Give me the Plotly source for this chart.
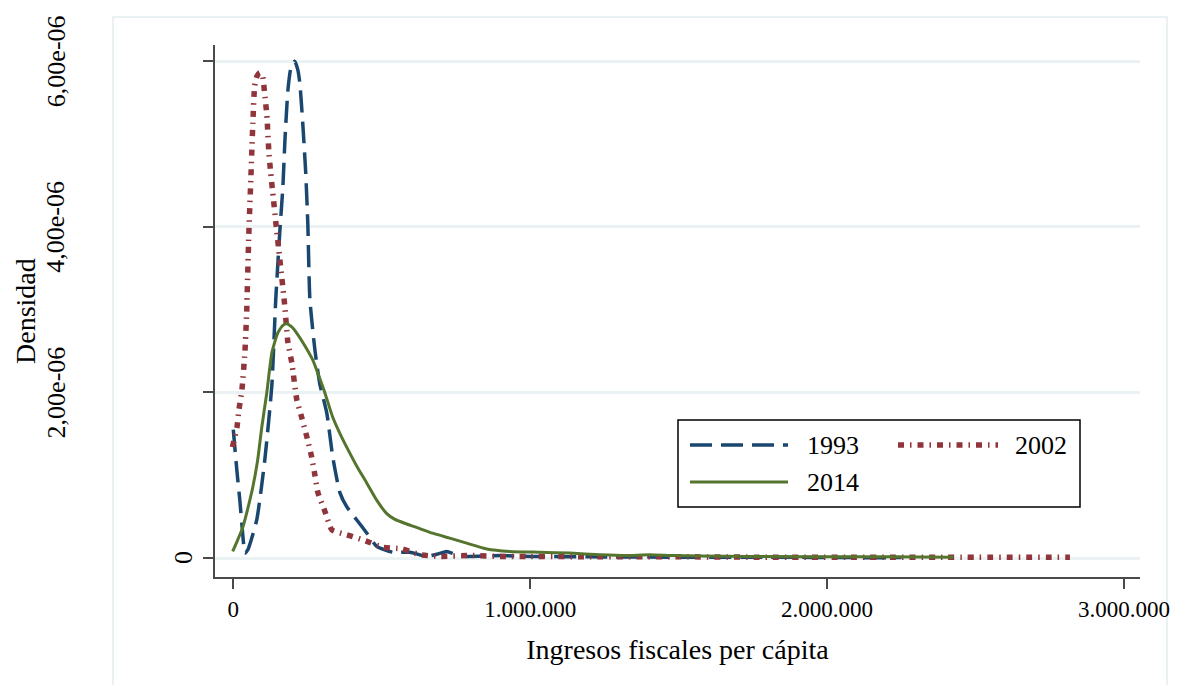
import plotly.graph_objects as go

# ---------------- data (x = ingresos fiscales per cápita, y = densidad in millionths) -------------
x_1993 = [0, 12000, 22000, 32000, 39000, 49000, 79000, 106000, 130000, 143000, 157000, 167000,
          174000, 184000, 194000, 207000, 217000, 224000, 234000, 244000, 251000, 258000, 275000,
          291000, 315000, 335000, 359000, 382000, 416000, 450000, 483000, 537000, 595000, 652000,
          690000, 719000, 750000, 786000, 900000, 1000000, 1200000, 1500000, 1800000, 2100000, 2250000]
d_1993 = [1.55, 1.06, 0.70, 0.28, 0.06, 0.10, 0.46, 1.18, 2.09, 3.12, 3.96, 4.48,
          5.05, 5.65, 5.92, 6.00, 5.90, 5.74, 5.25, 4.65, 4.04, 3.12, 2.51,
          2.11, 1.75, 1.22, 0.79, 0.62, 0.46, 0.30, 0.14, 0.07, 0.07, 0.02,
          0.05, 0.08, 0.04, 0.02, 0.03, 0.02, 0.015, 0.01, 0.01, 0.005, 0.005]

x_2002 = [-3000, 12000, 19000, 29000, 39000, 45000, 52000, 59000, 66000, 72000, 80000, 89000, 99000,
          106000, 113000, 120000, 126000, 133000, 146000, 173000, 184000, 197000, 214000, 231000,
          248000, 264000, 275000, 285000, 309000, 332000, 382000, 436000, 504000, 568000, 628000,
          696000, 800000, 900000, 1000000, 1200000, 1500000, 1800000, 2100000, 2400000, 2818000]
d_2002 = [1.34, 1.57, 1.79, 2.03, 2.48, 2.96, 3.88, 4.57, 5.26, 5.70, 5.82, 5.86, 5.81,
          5.59, 5.35, 4.89, 4.65, 4.41, 3.96, 3.06, 2.60, 2.36, 1.91, 1.69,
          1.46, 1.22, 1.00, 0.79, 0.56, 0.34, 0.28, 0.22, 0.13, 0.11, 0.04,
          0.02, 0.03, 0.02, 0.02, 0.015, 0.015, 0.01, 0.01, 0.01, 0.01]

x_2014 = [-2000, 15000, 32000, 49000, 66000, 82000, 96000, 113000, 130000, 150000, 167000, 180000,
          197000, 213000, 240000, 268000, 291000, 308000, 335000, 365000, 392000, 419000, 449000,
          483000, 516000, 543000, 577000, 617000, 671000, 729000, 786000, 854000, 931000, 1032000,
          1134000, 1235000, 1320000, 1403000, 1480000, 1571000, 1908000, 2200000, 2425000]
d_2014 = [0.08, 0.22, 0.37, 0.60, 0.86, 1.18, 1.58, 2.00, 2.48, 2.72, 2.81, 2.83,
          2.79, 2.72, 2.57, 2.39, 2.17, 2.00, 1.70, 1.46, 1.27, 1.09, 0.91,
          0.70, 0.54, 0.47, 0.42, 0.37, 0.30, 0.24, 0.18, 0.11, 0.08, 0.07,
          0.06, 0.04, 0.03, 0.04, 0.03, 0.025, 0.015, 0.015, 0.01]

series_names = ["1993", "2002", "2014"]
x_tick_vals = [0, 1000000, 2000000, 3000000]
x_tick_text = ["0", "1.000.000", "2.000.000", "3.000.000"]
y_tick_vals = [0, 2e-6, 4e-6, 6e-6]
y_tick_text = ["0", "2,00e-06", "4,00e-06", "6,00e-06"]
x_title = "Ingresos fiscales per cápita"
y_title = "Densidad"

# ---------------- figure -------------
OFF = 8                          # page body margin of the html page
VW, VH = 1179, 693               # browser viewport
W, H = VW - 2 * OFF, VH - 2 * OFF  # figure size so the page never overflows
# plot area in viewport pixels: x 215..1140, y 45..577
L, T = 215 - OFF, 45 - OFF
R = W - (1140 - OFF)
B = H - (577 - OFF)
PW, PH = W - L - R, H - T - B


def px_x(p):
    return (p - OFF - L) / PW


def px_y(p):
    return (H - B - (p - OFF)) / PH


FONT = "Liberation Serif"
C_BLUE, C_RED, C_GREEN = "#1a476f", "#90353b", "#55752f"
DASH_BLUE = "22px,9px"
DASH_RED = "6px,6px,1.5px,6px"
AX = "#4a4a4a"
GRID = "#eaf2f3"
NUM_SIZE = 26
XTICK_SIZE = 23
TXT_SIZE = 28

fig = go.Figure()
fig.add_trace(go.Scatter(x=x_1993, y=[v * 1e-6 for v in d_1993], mode="lines", name=series_names[0],
                         line=dict(color=C_BLUE, width=3.5, dash=DASH_BLUE, shape="spline", smoothing=0.5)))
fig.add_trace(go.Scatter(x=x_2002, y=[v * 1e-6 for v in d_2002], mode="lines", name=series_names[1],
                         line=dict(color=C_RED, width=5.5, dash=DASH_RED, shape="spline", smoothing=0.5)))
fig.add_trace(go.Scatter(x=x_2014, y=[v * 1e-6 for v in d_2014], mode="lines", name=series_names[2],
                         line=dict(color=C_GREEN, width=3, shape="spline", smoothing=0.5)))

fig.update_layout(
    width=W, height=H,
    margin=dict(l=L, r=R, t=T, b=B, autoexpand=False),
    paper_bgcolor="white", plot_bgcolor="white",
    font=dict(family=FONT, size=NUM_SIZE, color="black"),
    showlegend=False,
    xaxis=dict(range=[-61600, 3054000], tickvals=x_tick_vals, ticktext=x_tick_text,
               showgrid=False, zeroline=False, showline=True, linecolor=AX, linewidth=2,
               ticks="outside", ticklen=10, tickwidth=2, tickcolor=AX,
               ticklabeloverflow="allow",
               tickfont=dict(family=FONT, size=XTICK_SIZE, color="black"),
               title=dict(text=x_title, standoff=19, font=dict(family=FONT, size=TXT_SIZE, color="black"))),
    yaxis=dict(range=[-0.229e-6, 6.195e-6], tickvals=y_tick_vals, showticklabels=False,
               showgrid=True, gridcolor=GRID, gridwidth=3, zeroline=False,
               showline=True, linecolor=AX, linewidth=2,
               ticks="outside", ticklen=10, tickwidth=2, tickcolor=AX),
)

# outer light frame of the graph region
fig.add_shape(type="rect", xref="paper", yref="paper",
              x0=px_x(113), x1=px_x(1167), y0=px_y(720), y1=px_y(17),
              line=dict(color="#e4edef", width=1.5), fillcolor="rgba(0,0,0,0)", layer="below")

# y tick labels (rotated) placed on the y scale
for val, txt in zip(y_tick_vals, y_tick_text):
    xc = px_x(183) if txt == "0" else px_x(56)
    fig.add_annotation(x=xc, y=val, xref="paper", yref="y", text=txt, showarrow=False,
                       textangle=-90, xanchor="center", yanchor="middle",
                       font=dict(family=FONT, size=NUM_SIZE, color="black"))

# y axis title
fig.add_annotation(x=px_x(25), y=px_y(311), xref="paper", yref="paper", text=y_title,
                   showarrow=False, textangle=-90, xanchor="center", yanchor="middle",
                   font=dict(family=FONT, size=TXT_SIZE, color="black"))

# legend box (two columns)
fig.add_shape(type="rect", xref="paper", yref="paper",
              x0=px_x(678), x1=px_x(1080), y0=px_y(507), y1=px_y(420),
              line=dict(color="black", width=1.5), fillcolor="white", layer="above")
legend_items = [
    (series_names[0], C_BLUE, 3.5, DASH_BLUE, 690, 788, 805, 445),
    (series_names[1], C_RED, 5.5, DASH_RED, 898, 998, 1013, 445),
    (series_names[2], C_GREEN, 3, "solid", 690, 788, 805, 482),
]
for name, col, w, dash, s0, s1, tx, ty in legend_items:
    fig.add_shape(type="line", xref="paper", yref="paper",
                  x0=px_x(s0), x1=px_x(s1), y0=px_y(ty), y1=px_y(ty),
                  line=dict(color=col, width=w, dash=dash), layer="above")
    fig.add_annotation(x=px_x(tx), y=px_y(ty), xref="paper", yref="paper", text=name,
                       showarrow=False, xanchor="left", yanchor="middle",
                       font=dict(family=FONT, size=NUM_SIZE, color="black"))

fig.write_html("out.html")
